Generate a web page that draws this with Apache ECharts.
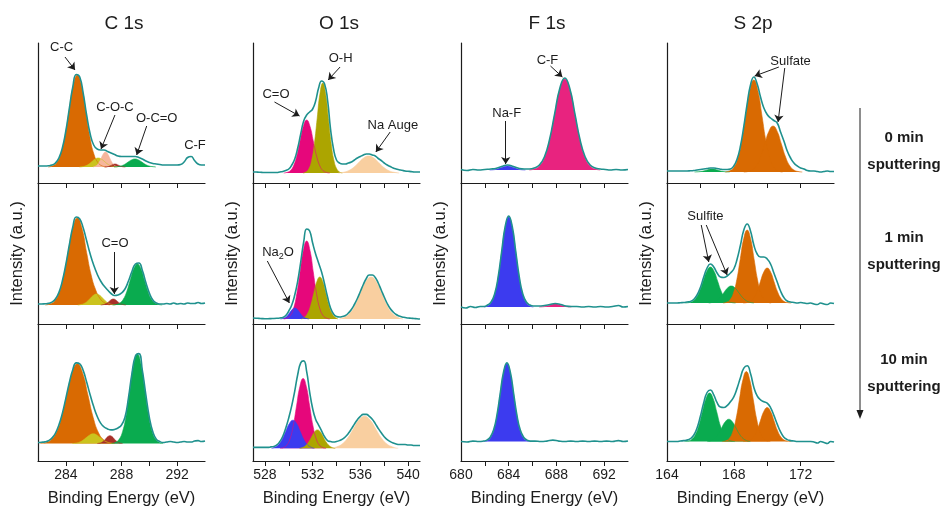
<!DOCTYPE html>
<html>
<head>
<meta charset="utf-8">
<title>XPS depth profile</title>
<script src="https://cdn.jsdelivr.net/npm/echarts@6/dist/echarts.min.js"></script>
<style>
  html, body { margin: 0; padding: 0; background: #fff; }
  #chart { width: 947px; height: 508px; }
</style>
</head>
<body>
<div id="chart"></div>
<script>
// ---------- data (binding energy in eV, intensity in arbitrary units) ----------
const columnTitles = ['C 1s', 'O 1s', 'F 1s', 'S 2p']
const sputterLabels = ['0 min', '1 min', '10 min']
const energyRanges = [[282, 294], [527, 541], [680, 694], [164, 174]]
const tickValues = [
  [284, 286, 288, 290, 292],
  [528, 530, 532, 534, 536, 538, 540],
  [682, 684, 686, 688, 690, 692],
  [166, 168, 170, 172]
]
const tickLabels = [
  [284, 288, 292],
  [528, 532, 536, 540],
  [680, 684, 688, 692],
  [164, 168, 172]
]

// C 1s, 0 min
const c1_CC = [[282.73,0],[283.03,1],[283.33,4],[283.63,12.4],[283.93,29.9],[284.23,55.8],[284.53,81.1],[284.83,92],[285.13,81.1],[285.43,55.8],[285.73,29.9],[286.03,12.4],[286.33,4],[286.63,1],[286.93,0]]
const c1_yellow = [[284.98,0],[285.205,0.4],[285.43,1.2],[285.655,2.9],[285.88,5.5],[286.105,7.9],[286.33,9],[286.555,7.9],[286.78,5.5],[287.005,2.9],[287.23,1.2],[287.455,0.4],[287.68,0]]
const c1_COC = [[285.95,0],[286.1,0.7],[286.25,2],[286.4,4.9],[286.55,9.1],[286.7,13.2],[286.85,15],[287.0,13.2],[287.15,9.1],[287.3,4.9],[287.45,2],[287.6,0.7],[287.75,0]]
const c1_CO = [[286.78,0],[287.03,0.4],[287.28,1.8],[287.53,3],[287.78,1.8],[288.03,0.4],[288.28,0]]
const c1_OCO = [[287.47,0],[287.72,0.4],[287.97,1.1],[288.22,2.6],[288.47,4.9],[288.72,7.1],[288.97,8],[289.22,7.1],[289.47,4.9],[289.72,2.6],[289.97,1.1],[290.22,0.4],[290.47,0]]
const c1_env = [[282.0,1],[282.25,1],[282.5,1],[282.75,1.2],[283.0,1.9],[283.25,3.9],[283.5,8.9],[283.75,19],[284.0,36],[284.25,58.5],[284.5,80],[284.75,92.5],[285.0,90],[285.25,73.5],[285.5,51.5],[285.75,33],[286.0,22],[286.25,18],[286.5,17],[286.75,17],[287.0,15.5],[287.25,14],[287.5,12.5],[287.75,11],[288.0,10.5],[288.25,10.5],[288.5,10.5],[288.75,10.5],[289.0,10.5],[289.25,9.5],[289.5,8],[289.75,6],[290.0,4.5],[290.25,3.5],[290.5,3],[290.75,2.5],[291.0,2],[291.25,2],[291.5,2],[291.75,2],[292.0,2],[292.25,2.5],[292.5,5],[292.75,9.5],[293.0,10.5],[293.25,6.5],[293.5,3],[293.75,2],[294.0,2]]

// C 1s, 1 min
const c2_CC = [[282.52,0],[282.85,1],[283.18,3.8],[283.51,11.7],[283.84,28.3],[284.17,52.8],[284.5,76.7],[284.83,87],[285.16,76.7],[285.49,52.8],[285.82,30],[286.15,15],[286.48,6],[286.81,2],[287.14,0]]
const c2_yellow = [[284.86,0],[285.085,0.5],[285.31,1.5],[285.535,3.6],[285.76,6.7],[285.985,9.7],[286.21,11],[286.435,9.7],[286.66,6.7],[286.885,3.6],[287.11,1.5],[287.335,0.5],[287.56,0]]
const c2_CO = [[286.51,0],[286.66,0.3],[286.81,0.8],[286.96,1.9],[287.11,3.6],[287.26,5.3],[287.41,6],[287.56,5.3],[287.71,3.6],[287.86,1.9],[288.01,0.8],[288.16,0.3],[288.31,0]]
const c2_OCO = [[287.355,0],[287.61,0.5],[287.865,1.8],[288.12,5.5],[288.375,13.3],[288.63,24.9],[288.885,36.2],[289.14,41],[289.395,36.2],[289.65,24.9],[289.905,13.3],[290.16,5.5],[290.415,1.8],[290.67,0.5],[290.925,0]]
const c2_env = [[282.0,1],[282.25,1],[282.5,1.2],[282.75,1.6],[283.0,2.9],[283.25,6],[283.5,12.4],[283.75,24],[284.0,40.5],[284.25,60],[284.5,78],[284.75,88],[285.0,86],[285.25,77],[285.5,64],[285.75,51],[286.0,40],[286.25,31],[286.5,24],[286.75,19],[287.0,15],[287.25,11.5],[287.5,9.5],[287.75,10],[288.0,12],[288.25,16],[288.5,24],[288.75,33.5],[289.0,41],[289.25,42],[289.5,34.5],[289.75,22.5],[290.0,12],[290.25,5],[290.5,2],[290.75,1],[291.0,1],[291.25,1.5],[291.5,1],[291.75,2],[292.0,1],[292.25,1.5],[292.5,1],[292.75,2],[293.0,1.5],[293.25,1.5],[293.5,2.5],[293.75,1.5],[294.0,2]]

// C 1s, 10 min
const c3_CC = [[282.17,0],[282.55,0.9],[282.93,3.6],[283.31,11.1],[283.69,26.6],[284.07,49.8],[284.45,72.3],[284.83,82],[285.21,72.3],[285.59,49.8],[285.97,26.6],[286.35,11.1],[286.73,3.6],[287.11,0.9],[287.49,0]]
const c3_yellow = [[284.47,0],[284.72,0.4],[284.97,1.4],[285.22,3.3],[285.47,6.1],[285.72,8.8],[285.97,10],[286.22,8.8],[286.47,6.1],[286.72,3.3],[286.97,1.4],[287.22,0.4],[287.47,0]]
const c3_CO = [[286.27,0],[286.42,0.4],[286.57,1.1],[286.72,2.6],[286.87,4.9],[287.02,7.1],[287.17,8],[287.32,7.1],[287.47,4.9],[287.62,2.6],[287.77,1.1],[287.92,0.4],[288.07,0]]
const c3_OCO = [[287.285,0],[287.55,1],[287.815,4],[288.08,12.4],[288.345,29.9],[288.61,55.8],[288.875,81.1],[289.14,92],[289.405,81.1],[289.67,55.8],[289.935,29.9],[290.2,12.4],[290.465,4],[290.73,1],[290.995,0]]
const c3_env = [[282.0,1],[282.25,1.3],[282.5,1.7],[282.75,2.9],[283.0,5.5],[283.25,10.5],[283.5,19],[283.75,31],[284.0,46.5],[284.25,62.5],[284.5,76],[284.75,83],[285.0,82],[285.25,75],[285.5,63],[285.75,50],[286.0,38],[286.25,28],[286.5,21],[286.75,17],[287.0,15],[287.25,14],[287.5,14.5],[287.75,16],[288.0,19],[288.25,27],[288.5,47],[288.75,72],[289.0,90],[289.25,92.5],[289.5,75],[289.75,50],[290.0,27],[290.25,12],[290.5,4.5],[290.75,2],[291.0,1],[291.25,1.5],[291.5,2],[291.75,1.5],[292.0,1],[292.25,1.5],[292.5,2],[292.75,1.5],[293.0,1.5],[293.25,2.5],[293.5,3],[293.75,2],[294.0,2.5]]

// O 1s, 0 min
const o1_CO = [[529.575,0],[529.85,0.6],[530.125,2.3],[530.4,7.2],[530.675,17.2],[530.95,32.2],[531.225,46.7],[531.5,53],[531.775,46.7],[532.05,32.2],[532.325,17.2],[532.6,7.2],[532.875,2.3],[533.15,0.6],[533.425,0]]
const o1_OH = [[531.205,0],[531.44,1],[531.675,4],[531.91,12.2],[532.145,29.3],[532.38,54.6],[532.615,79.4],[532.85,90],[533.085,79.4],[533.32,54.6],[533.555,29.3],[533.79,12.2],[534.025,4],[534.26,1],[534.495,0]]
const o1_auger = [[534.15,0],[534.575,0.7],[535.0,2.3],[535.425,5.5],[535.85,10.3],[536.275,15],[536.7,17],[537.125,15],[537.55,10.3],[537.975,5.5],[538.4,2.3],[538.825,0.7],[539.25,0]]
const o1_env = [[527.0,1],[527.25,1],[527.5,0.8],[527.75,0.6],[528.0,0.5],[528.25,0.5],[528.5,0.5],[528.75,0.5],[529.0,0.5],[529.25,1],[529.5,1.5],[529.75,2.5],[530.0,4],[530.25,8],[530.5,14],[530.75,25],[531.0,39],[531.25,52],[531.5,58],[531.75,61],[532.0,64],[532.25,72],[532.5,85],[532.75,92],[533.0,89],[533.25,73],[533.5,44],[533.75,24],[534.0,13],[534.25,10],[534.5,9],[534.75,9],[535.0,10],[535.25,11],[535.5,13],[535.75,15],[536.0,16.5],[536.25,18],[536.5,19],[536.75,19],[537.0,18],[537.25,17],[537.5,14.5],[537.75,12.5],[538.0,10],[538.25,8],[538.5,6.5],[538.75,5],[539.0,4],[539.25,3.3],[539.5,2.7],[539.75,2],[540.0,1.7],[540.25,1.4],[540.5,1],[540.75,1],[541.0,1]]

// O 1s, 1 min
const o2_CO = [[529.575,0],[529.85,0.9],[530.125,3.4],[530.4,10.5],[530.675,25.4],[530.95,47.3],[531.225,68.8],[531.5,78],[531.775,68.8],[532.05,47.3],[532.325,25.4],[532.6,10.5],[532.875,3.4],[533.15,0.9],[533.425,0]]
const o2_OH = [[531.07,0],[531.325,1.8],[531.58,5.7],[531.835,13.6],[532.09,25.5],[532.345,37],[532.6,42],[532.855,37],[533.11,25.5],[533.365,13.6],[533.62,5.7],[533.875,1.8],[534.13,0]]
const o2_Na2O = [[529.3,0],[529.5,0.5],[529.7,1.5],[529.9,3.6],[530.1,6.7],[530.3,9.7],[530.5,11],[530.7,9.7],[530.9,6.7],[531.1,3.6],[531.3,1.5],[531.5,0.5],[531.7,0]]
const o2_auger = [[534.23,0],[534.675,1.8],[535.12,5.7],[535.565,13.6],[536.01,25.5],[536.455,37],[536.9,42],[537.345,37],[537.79,25.5],[538.235,13.6],[538.68,5.7],[539.125,1.8],[539.57,0]]
const o2_env = [[527.0,1],[527.25,0.8],[527.5,0.6],[527.75,0.4],[528.0,0.3],[528.25,0.3],[528.5,0.4],[528.75,0.5],[529.0,0.7],[529.25,1],[529.5,1.5],[529.75,3.5],[530.0,8],[530.25,14],[530.5,24],[530.75,38],[531.0,57],[531.25,77],[531.5,90],[531.75,88],[532.0,76],[532.25,65],[532.5,56],[532.75,47],[533.0,35],[533.25,22],[533.5,11],[533.75,5],[534.0,2.5],[534.25,2],[534.5,2.5],[534.75,3.5],[535.0,6],[535.25,9.5],[535.5,14.5],[535.75,20.5],[536.0,27.5],[536.25,34.5],[536.5,40.5],[536.75,44],[537.0,44],[537.25,41.5],[537.5,36],[537.75,29],[538.0,22],[538.25,15.5],[538.5,10.5],[538.75,7],[539.0,4.5],[539.25,3],[539.5,2],[539.75,1.5],[540.0,1],[540.25,0.8],[540.5,0.5],[540.75,0.3],[541.0,0]]

// O 1s, 10 min
const o3_CO = [[529.275,0],[529.55,0.8],[529.825,3.2],[530.1,9.7],[530.375,23.4],[530.65,43.7],[530.925,63.5],[531.2,72],[531.475,63.5],[531.75,43.7],[532.025,23.4],[532.3,9.7],[532.575,3.2],[532.85,0.8],[533.125,0]]
const o3_Na2O = [[528.55,0],[528.85,1.3],[529.15,3.9],[529.45,9.4],[529.75,17.6],[530.05,25.6],[530.35,29],[530.65,25.6],[530.95,17.6],[531.25,9.4],[531.55,3.9],[531.85,1.3],[532.15,0]]
const o3_OH = [[530.9,0],[531.15,0.8],[531.4,2.6],[531.65,6.2],[531.9,11.5],[532.15,16.8],[532.4,19],[532.65,16.8],[532.9,11.5],[533.15,6.2],[533.4,2.6],[533.65,0.8],[533.9,0]]
const o3_auger = [[533.53,0],[534.0,1.5],[534.47,4.5],[534.94,10.7],[535.41,20],[535.88,29.1],[536.35,33],[536.82,29.1],[537.29,20],[537.76,10.7],[538.23,4.5],[538.7,1.5],[539.17,0]]
const o3_env = [[527.0,1],[527.25,1],[527.5,1],[527.75,1],[528.0,1],[528.25,1],[528.5,1.5],[528.75,2],[529.0,3.5],[529.25,7],[529.5,12.5],[529.75,21],[530.0,31.5],[530.25,44],[530.5,59],[530.75,76],[531.0,88],[531.25,90],[531.5,79],[531.75,58],[532.0,41],[532.25,30],[532.5,24],[532.75,18],[533.0,12],[533.25,8],[533.5,7],[533.75,6.5],[534.0,7],[534.25,8],[534.5,9.5],[534.75,12],[535.0,15.5],[535.25,20],[535.5,25],[535.75,29.5],[536.0,33],[536.25,35],[536.5,35],[536.75,33],[537.0,30],[537.25,25.5],[537.5,20.5],[537.75,16],[538.0,12],[538.25,9],[538.5,7],[538.75,5.5],[539.0,4.5],[539.25,4],[539.5,4],[539.75,4],[540.0,3.5],[540.25,3.5],[540.5,3],[540.75,3],[541.0,3]]

// F 1s
const f1_NaF = [[682.4,0],[682.9,0.5],[683.4,2.4],[683.9,4],[684.4,2.4],[684.9,0.5],[685.4,0]]
const f1_CF = [[685.725,0],[686.15,1],[686.575,4],[687.0,12.3],[687.425,29.6],[687.85,55.2],[688.275,80.3],[688.7,91],[689.125,80.3],[689.55,55.2],[689.975,29.6],[690.4,12.3],[690.825,4],[691.25,1],[691.675,0]]
const f1_env = [[680.0,0.5],[680.5,-0.5],[681.0,0.5],[681.5,0],[682.0,0.5],[682.5,1],[682.9,1.5],[683.4,3.5],[683.9,5],[684.4,3.5],[684.9,1.5],[685.3,1],[685.725,1],[686.15,2],[686.575,5],[687.0,13.3],[687.425,30.6],[687.85,56.2],[688.275,81.3],[688.7,92],[689.125,81.3],[689.55,56.2],[689.975,30.6],[690.4,13.3],[690.825,5],[691.25,2],[691.675,1],[692.1,0.5],[692.5,0],[693.0,0.5],[693.5,0],[694.0,0.5]]
const f2_NaF = [[681.935,0],[682.23,1],[682.525,4],[682.82,12.2],[683.115,29.3],[683.41,54.6],[683.705,79.4],[684.0,90],[684.295,79.4],[684.59,54.6],[684.885,29.3],[685.18,12.2],[685.475,4],[685.77,1],[686.065,0]]
const f2_CF = [[686.55,0],[687.0,0.4],[687.45,1.8],[687.9,3],[688.35,1.8],[688.8,0.4],[689.25,0]]
const f2_env = [[680.0,0],[680.4,-1],[680.8,0.5],[681.2,-0.5],[681.6,0.5],[681.935,0.5],[682.23,2],[682.525,5],[682.82,13],[683.115,30],[683.41,55.5],[683.705,80.5],[684.0,91],[684.295,80.5],[684.59,55.5],[684.885,30],[685.18,13],[685.475,5],[685.77,2],[686.065,1],[686.5,1],[687.0,1.5],[687.45,2.5],[687.9,3.5],[688.35,2.5],[688.8,1],[689.25,0.5],[689.7,0.5],[690.2,0],[690.7,0.5],[691.2,0],[691.7,0.5],[692.2,0],[692.7,0.5],[693.2,1.5],[693.6,0],[694.0,0.5]]
const f3_NaF = [[681.89,0],[682.17,0.9],[682.45,3.5],[682.73,10.8],[683.01,26],[683.29,48.6],[683.57,70.6],[683.85,80],[684.13,70.6],[684.41,48.6],[684.69,26],[684.97,10.8],[685.25,3.5],[685.53,0.9],[685.81,0]]
const f3_env = [[680.0,0],[680.5,-0.5],[681.0,0.5],[681.5,0],[681.89,0.5],[682.17,1.5],[682.45,4.5],[682.73,11.8],[683.01,27],[683.29,49.6],[683.57,71.6],[683.85,81],[684.13,71.6],[684.41,49.6],[684.69,27],[684.97,11.8],[685.25,4.5],[685.53,1.5],[685.81,0.5],[686.2,0.5],[686.7,0],[687.2,0.5],[687.7,1.5],[688.2,0.5],[688.7,0],[689.2,0.5],[689.7,0],[690.2,0.5],[690.7,0],[691.2,0.5],[691.7,0],[692.2,0.5],[692.7,0],[693.2,1],[693.6,0],[694.0,0.5]]

// S 2p
const s1_minor = [[165.65,0],[166.0,0.4],[166.35,1.8],[166.7,3],[167.05,1.8],[167.4,0.4],[167.75,0]]
const s1_sulfate1 = [[167.485,0],[167.73,1],[167.975,4],[168.22,12.4],[168.465,29.9],[168.71,55.8],[168.955,81.1],[169.2,92],[169.445,81.1],[169.69,55.8],[169.935,29.9],[170.18,12.4],[170.425,4],[170.67,1],[170.915,0]]
const s1_sulfate2 = [[168.6,0],[168.85,0.5],[169.1,2],[169.35,6.2],[169.6,15],[169.85,27.9],[170.1,40.6],[170.35,46],[170.6,40.6],[170.85,27.9],[171.1,15],[171.35,6.2],[171.6,2],[171.85,0.5],[172.1,0]]
const s1_env = [[164.0,1],[164.2,1],[164.4,1],[164.6,1],[164.8,1],[165.0,1],[165.2,1],[165.4,1.2],[165.6,1.5],[165.8,2],[166.0,2.5],[166.2,3],[166.4,3.5],[166.6,4],[166.8,4],[167.0,3.5],[167.2,2.8],[167.4,2.5],[167.6,2.5],[167.8,3],[168.0,6],[168.2,13],[168.4,26],[168.6,45.5],[168.8,68],[169.0,87],[169.2,95],[169.4,88],[169.6,75],[169.8,64],[170.0,57.5],[170.2,54],[170.4,51.5],[170.6,49],[170.8,40],[171.0,31],[171.2,21],[171.4,14],[171.6,9],[171.8,6],[172.0,4],[172.2,3],[172.4,1.5],[172.6,1],[172.8,1],[173.0,0.5],[173.2,0],[173.4,0.5],[173.6,1],[173.8,0.5],[174.0,0.5]]
const s2_sulfite1 = [[165.095,0],[165.31,0.4],[165.525,1.6],[165.74,4.9],[165.955,11.7],[166.17,21.9],[166.385,31.8],[166.6,36],[166.815,31.8],[167.03,21.9],[167.245,11.7],[167.46,4.9],[167.675,1.6],[167.89,0.4],[168.105,0]]
const s2_sulfite2 = [[166.5,0],[166.725,0.7],[166.95,2.3],[167.175,5.5],[167.4,10.3],[167.625,15],[167.85,17],[168.075,15],[168.3,10.3],[168.525,5.5],[168.75,2.3],[168.975,0.7],[169.2,0]]
const s2_sulfate1 = [[167.365,0],[167.57,0.8],[167.775,3.2],[167.98,9.9],[168.185,23.7],[168.39,44.3],[168.595,64.4],[168.8,73],[169.005,64.4],[169.21,44.3],[169.415,23.7],[169.62,9.9],[169.825,3.2],[170.03,0.8],[170.235,0]]
const s2_sulfate2 = [[168.565,0],[168.77,0.4],[168.975,1.5],[169.18,4.7],[169.385,11.4],[169.59,21.2],[169.795,30.9],[170.0,35],[170.205,30.9],[170.41,21.2],[170.615,11.4],[170.82,4.7],[171.025,1.5],[171.23,0.4],[171.435,0]]
const s2_env = [[164.0,0],[164.2,0],[164.4,0],[164.6,0],[164.8,0.3],[165.0,0.5],[165.2,1],[165.4,1.5],[165.6,3.5],[165.8,8],[166.0,15.5],[166.2,26],[166.4,35],[166.6,39],[166.8,36],[167.0,30],[167.2,26],[167.4,25.5],[167.6,27],[167.8,30],[168.0,34],[168.2,44],[168.4,58],[168.6,73],[168.8,79],[169.0,72],[169.2,58],[169.4,49],[169.6,46],[169.8,46],[170.0,44],[170.2,39],[170.4,30],[170.6,21],[170.8,12],[171.0,5.5],[171.2,2],[171.4,1],[171.6,0.5],[171.8,0],[172.0,0.5],[172.2,0],[172.4,-0.5],[172.6,0],[172.8,-1],[173.0,-1.5],[173.2,0],[173.4,-1],[173.6,-1.5],[173.8,0],[174.0,-0.5]]
const s3_sulfite1 = [[165.045,0],[165.26,0.6],[165.475,2.2],[165.69,6.8],[165.905,16.2],[166.12,30.4],[166.335,44.1],[166.55,50],[166.765,44.1],[166.98,30.4],[167.195,16.2],[167.41,6.8],[167.625,2.2],[167.84,0.6],[168.055,0]]
const s3_sulfite2 = [[166.41,0],[166.625,1],[166.84,3.1],[167.055,7.5],[167.27,14],[167.485,20.3],[167.7,23],[167.915,20.3],[168.13,14],[168.345,7.5],[168.56,3.1],[168.775,1],[168.99,0]]
const s3_sulfate1 = [[167.315,0],[167.52,0.8],[167.725,3.2],[167.93,9.7],[168.135,23.4],[168.34,43.7],[168.545,63.5],[168.75,72],[168.955,63.5],[169.16,43.7],[169.365,23.4],[169.57,9.7],[169.775,3.2],[169.98,0.8],[170.185,0]]
const s3_sulfate2 = [[168.565,0],[168.77,0.4],[168.975,1.5],[169.18,4.7],[169.385,11.4],[169.59,21.2],[169.795,30.9],[170.0,35],[170.205,30.9],[170.41,21.2],[170.615,11.4],[170.82,4.7],[171.025,1.5],[171.23,0.4],[171.435,0]]
const s3_env = [[164.0,0],[164.2,0],[164.4,0],[164.6,0],[164.8,0.5],[165.0,1],[165.2,1.5],[165.4,3],[165.6,6.5],[165.8,14],[166.0,26],[166.2,40],[166.4,50.5],[166.6,53],[166.8,48],[167.0,40],[167.2,35.5],[167.4,35],[167.6,37],[167.8,41],[168.0,46],[168.2,55],[168.4,66],[168.6,75.5],[168.8,78],[169.0,70],[169.2,56],[169.4,47],[169.6,43],[169.8,41],[170.0,39.5],[170.2,35],[170.4,27],[170.6,18],[170.8,10],[171.0,4.5],[171.2,2],[171.4,1],[171.6,0.5],[171.8,0],[172.0,0],[172.2,0],[172.4,0],[172.6,0],[172.8,-0.5],[173.0,-1.5],[173.2,0],[173.4,-1],[173.6,-2],[173.8,0],[174.0,-0.5]]

// ---------- styling ----------
const FONT = '"Liberation Sans", Arial, Helvetica, sans-serif'
const INK = '#1c1c1c'
const TEAL = '#1f918e'
const ORANGE = '#d96a02'
const SALMON = '#f6b69c'
const YELLOW = '#cbc31e'
const DARKRED = '#a83029'
const GREEN = '#0aab4f'
const PINK = '#e6077b'
const ROSE = '#e8237f'
const OLIVE = '#aca500'
const PEACH = '#f9cfa0'
const BLUE = '#3c3bef'

const colLeft = [38, 253, 461, 667]
const colWidth = 167
const rowTop = [43, 183, 324]
const rowHeight = [140, 141, 141]

// each panel: column, row, y range, filled components, measured envelope, annotations
const panels = [
  { col: 0, row: 0, y: [-16, 124], env: c1_env,
    peaks: [[c1_CC, ORANGE], [c1_yellow, YELLOW], [c1_COC, SALMON], [c1_CO, DARKRED], [c1_OCO, GREEN]],
    notes: [
      { text: 'C-C', at: [283.7, 120], arrows: [[[283.94, 110], [284.66, 97]]] },
      { text: 'C-O-C', at: [287.53, 60], arrows: [[[287.53, 52], [286.53, 18]]] },
      { text: 'O-C=O', at: [290.53, 49], arrows: [[[289.81, 41], [289.09, 12]]] },
      { text: 'C-F', at: [293.28, 22], arrows: [] }
    ] },
  { col: 0, row: 1, y: [-19, 122], env: c2_env,
    peaks: [[c2_CC, ORANGE], [c2_yellow, YELLOW], [c2_CO, DARKRED], [c2_OCO, GREEN]],
    notes: [{ text: 'C=O', at: [287.53, 62], arrows: [[[287.48, 53], [287.48, 11]]] }] },
  { col: 0, row: 2, y: [-18, 123], env: c3_env,
    peaks: [[c3_CC, ORANGE], [c3_yellow, YELLOW], [c3_CO, DARKRED], [c3_OCO, GREEN]], notes: [] },

  { col: 1, row: 0, y: [-10, 130], env: o1_env,
    peaks: [[o1_CO, PINK], [o1_OH, OLIVE], [o1_auger, PEACH]],
    notes: [
      { text: 'O-H', at: [534.35, 115], arrows: [[[534.3, 106], [533.3, 93]]] },
      { text: 'C=O', at: [528.93, 79], arrows: [[[528.8, 71], [530.9, 57]]] },
      { text: 'Na Auger', at: [536.6, 48], clipWidth: 53, arrows: [[[538.5, 41], [537.3, 21]]] }
    ] },
  { col: 1, row: 1, y: [-5, 136], env: o2_env,
    peaks: [[o2_CO, PINK], [o2_OH, OLIVE], [o2_Na2O, BLUE], [o2_auger, PEACH]],
    notes: [{ text: '{n|Na}{s|2}{n|O}', at: [529.1, 67], arrows: [[[528.2, 58], [530.05, 16]]] }] },
  { col: 1, row: 2, y: [-13, 128], env: o3_env,
    peaks: [[o3_CO, PINK], [o3_Na2O, BLUE], [o3_OH, OLIVE], [o3_auger, PEACH]], notes: [] },

  { col: 2, row: 0, y: [-13, 127], env: f1_env,
    peaks: [[f1_NaF, BLUE], [f1_CF, ROSE]],
    notes: [
      { text: 'C-F', at: [687.25, 110], arrows: [[[687.5, 104], [688.5, 93]]] },
      { text: 'Na-F', at: [683.83, 57], arrows: [[[683.75, 49], [683.75, 6]]] }
    ] },
  { col: 2, row: 1, y: [-17, 124], env: f2_env, peaks: [[f2_NaF, BLUE], [f2_CF, ROSE]], notes: [] },
  { col: 2, row: 2, y: [-20, 121], env: f3_env, peaks: [[f3_NaF, BLUE]], notes: [] },

  { col: 3, row: 0, y: [-11, 129], env: s1_env,
    peaks: [[s1_minor, GREEN], [s1_sulfate1, ORANGE], [s1_sulfate2, ORANGE]],
    notes: [{ text: 'Sulfate', at: [171.4, 111],
      arrows: [[[170.7, 105], [169.25, 96]], [[171.05, 104], [170.65, 50]]] }] },
  { col: 3, row: 1, y: [-21, 120], env: s2_env,
    peaks: [[s2_sulfite1, GREEN], [s2_sulfite2, GREEN], [s2_sulfate1, ORANGE], [s2_sulfate2, ORANGE]],
    notes: [{ text: 'Sulfite', at: [166.3, 87],
      arrows: [[[166.05, 78], [166.5, 41]], [[166.35, 78], [167.6, 28]]] }] },
  { col: 3, row: 2, y: [-20, 121], env: s3_env,
    peaks: [[s3_sulfite1, GREEN], [s3_sulfite2, GREEN], [s3_sulfate1, ORANGE], [s3_sulfate2, ORANGE]], notes: [] }
]

// ---------- build option ----------
const axisLine = { lineStyle: { color: INK, width: 1.2 } }
const grids = [], xAxes = [], yAxes = [], series = []

panels.forEach((p, i) => {
  grids.push({ left: colLeft[p.col], top: rowTop[p.row], width: colWidth, height: rowHeight[p.row] })
  const bottom = p.row === 2
  xAxes.push({
    type: 'value', gridIndex: i,
    min: energyRanges[p.col][0], max: energyRanges[p.col][1],
    axisLine: { ...axisLine, onZero: false },
    axisTick: { customValues: tickValues[p.col], length: 5, lineStyle: { color: INK, width: 1 } },
    axisLabel: { show: bottom, customValues: tickLabels[p.col], color: INK, fontSize: 14, fontFamily: FONT, margin: 7 },
    splitLine: { show: false },
    name: bottom ? 'Binding Energy (eV)' : '',
    nameLocation: 'middle', nameGap: 29,
    nameTextStyle: { color: INK, fontSize: 16.5, fontFamily: FONT }
  })
  yAxes.push({
    type: 'value', gridIndex: i, min: p.y[0], max: p.y[1],
    axisLine: { ...axisLine, show: true, onZero: false },
    axisTick: { show: false }, axisLabel: { show: false }, splitLine: { show: false },
    name: p.row === 1 ? 'Intensity (a.u.)' : '',
    nameLocation: 'middle', nameGap: 12,
    nameTextStyle: { color: INK, fontSize: 16.5, fontFamily: FONT }
  })

  p.peaks.forEach(([data, color]) => {
    series.push({
      type: 'line', xAxisIndex: i, yAxisIndex: i, data,
      smooth: 0.5, symbol: 'none', silent: true,
      lineStyle: { width: 0.6, color }, areaStyle: { color, opacity: 1 }, z: 2
    })
  })

  const arrowLines = []
  p.notes.forEach(n => n.arrows.forEach(([a, b]) => arrowLines.push([{ coord: a }, { coord: b }])))
  series.push({
    type: 'line', xAxisIndex: i, yAxisIndex: i, data: p.env,
    smooth: 0.5, symbol: 'none', silent: true,
    lineStyle: { width: 1.6, color: TEAL }, z: 3,
    markLine: {
      silent: true, symbol: ['none', 'arrow'], symbolSize: 7,
      lineStyle: { color: INK, width: 1, type: 'solid' },
      label: { show: false }, emphasis: { disabled: true },
      data: arrowLines
    },
    markPoint: {
      silent: true, symbol: 'circle', symbolSize: 0,
      data: p.notes.map(n => ({
        coord: n.at,
        label: {
          show: true, formatter: n.text,
          position: n.clipWidth ? 'right' : 'inside',
          distance: 0,
          width: n.clipWidth, overflow: n.clipWidth ? 'truncate' : 'none', ellipsis: '',
          color: INK, fontSize: 13, fontFamily: FONT,
          rich: { n: { fontSize: 13, fontFamily: FONT, color: INK }, s: { fontSize: 9, fontFamily: FONT, color: INK, padding: [9, 0, 0, 0] } }
        }
      }))
    }
  })
})

// titles and the sputtering-time arrow
const graphics = columnTitles.map((t, c) => ({
  type: 'text', x: colLeft[c] + 86, y: 24,
  style: { text: t, font: `19px ${FONT}`, fill: INK, align: 'center', verticalAlign: 'middle' }
}))
const sputterY = [138, 238, 360]
sputterLabels.forEach((t, k) => {
  graphics.push({ type: 'text', x: 904, y: sputterY[k],
    style: { text: t, font: `bold 15px ${FONT}`, fill: INK, align: 'center', verticalAlign: 'middle' } })
  graphics.push({ type: 'text', x: 904, y: sputterY[k] + 27,
    style: { text: 'sputtering', font: `bold 15px ${FONT}`, fill: INK, align: 'center', verticalAlign: 'middle' } })
})
graphics.push({ type: 'line', shape: { x1: 860, y1: 108, x2: 860, y2: 412 }, style: { stroke: INK, lineWidth: 1 } })
graphics.push({ type: 'polygon', shape: { points: [[856.5, 410], [863.5, 410], [860, 419]] }, style: { fill: INK } })

const chart = echarts.init(document.getElementById('chart'), null, { renderer: 'canvas' })
chart.setOption({
  animation: false,
  backgroundColor: '#fff',
  textStyle: { fontFamily: FONT },
  grid: grids, xAxis: xAxes, yAxis: yAxes, series,
  graphic: graphics
})
</script>
</body>
</html>
